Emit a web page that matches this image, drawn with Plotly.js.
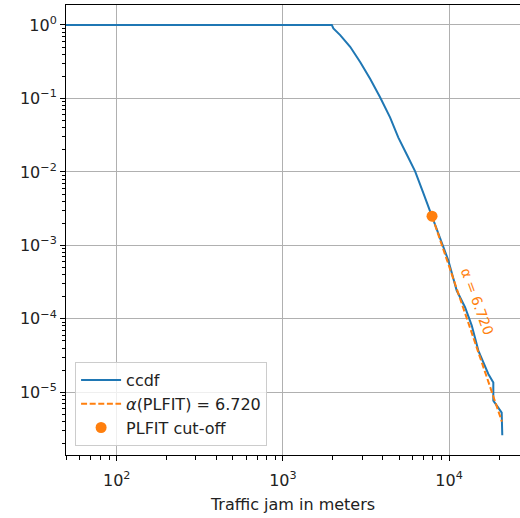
<!DOCTYPE html>
<html>
<head>
<meta charset="utf-8">
<script src="https://cdn.plot.ly/plotly-3.0.1.min.js"></script>
<style>html,body{margin:0;padding:0;overflow:hidden;background:#fff}</style>
</head>
<body>
<div id="chart" style="width:520px;height:518px"></div>
<script>
// CCDF of traffic jam lengths
const ccdfX = [20, 1972, 2014, 2213, 2541, 2918, 3350, 3846, 4416, 4955, 5568, 6252, 7006, 7804, 8830, 9905, 11120, 12480, 13700, 15010, 17230, 18470, 18470, 20740, 20910];
const ccdfY = [1, 1, 0.90, 0.729, 0.505, 0.314, 0.185, 0.104, 0.0552, 0.0293, 0.0173, 0.0102, 0.00515, 0.00265, 1.3e-3, 6.24e-4, 2.43e-4, 1.44e-4, 8.1e-5, 3.7e-5, 1.78e-5, 1.36e-5, 7.7e-6, 5.3e-6, 2.6e-6];
// PLFIT power-law fit line
const fitX = [7900, 20800];
const fitY = [2.5e-3, 4.0e-6];
const alphaValue = 6.720;
// cut-off point
const cutX = [7900];
const cutY = [2.5e-3];
// annotation position
const annX = 14680, annY = 1.73e-4;
// tick labels
const xTickVals = [100, 1000, 10000];
const xTickText = ["10<sup>2</sup>", "10<sup>3</sup>", "10<sup>4</sup>"];
const yTickVals = [1, 0.1, 0.01, 0.001, 1e-4, 1e-5];
const yTickText = ["10<sup>0</sup>", "10<sup>−1</sup>", "10<sup>−2</sup>", "10<sup>−3</sup>", "10<sup>−4</sup>", "10<sup>−5</sup>"];

function minorVals(lo, hi) {
  const v = [];
  for (let e = lo; e <= hi; e++) for (let m = 2; m <= 9; m++) v.push(m * Math.pow(10, e));
  return v;
}

const blue = '#1f77b4', orange = '#ff7f0e';
const traces = [
  {x: ccdfX, y: ccdfY, mode: 'lines', name: 'ccdf', legendgroup: 'a',
   line: {color: blue, width: 2}},
  {x: fitX, y: fitY, mode: 'lines', name: '<i>α</i>(PLFIT) = ' + alphaValue.toFixed(3), legendgroup: 'b',
   line: {color: orange, width: 2, dash: '6px,2.6px'}},
  {x: cutX, y: cutY, mode: 'markers', name: 'PLFIT cut-off', legendgroup: 'c',
   marker: {color: orange, size: 11}}
];
const axisCommon = {
  type: 'log', showline: true, linecolor: 'black', linewidth: 1,
  showgrid: true, gridcolor: '#b0b0b0', gridwidth: 1,
  ticks: 'outside', ticklen: 5, tickcolor: 'black', tickwidth: 1,
  tickmode: 'array', zeroline: false,
  tickfont: {family: 'DejaVu Sans', size: 16, color: '#222'}
};
const layout = {
  width: 520, height: 518,
  margin: {l: 66, r: 0, t: 5, b: 63},
  paper_bgcolor: 'white', plot_bgcolor: 'white',
  font: {family: 'DejaVu Sans', size: 16, color: '#222'},
  showlegend: true,
  xaxis: Object.assign({}, axisCommon, {
    range: [1.695, 4.427], mirror: true, ticklabelstandoff: 6,
    tickvals: xTickVals, ticktext: xTickText,
    minor: {tickmode: 'array', tickvals: minorVals(1, 4), ticks: 'outside', ticklen: 3.5, tickcolor: 'black', tickwidth: 1, showgrid: false},
    title: {text: 'Traffic jam in meters', font: {family: 'DejaVu Sans', size: 16, color: '#222'}, standoff: 9}
  }),
  yaxis: Object.assign({}, axisCommon, {
    range: [-5.853, 0.272], mirror: false,
    tickvals: yTickVals, ticktext: yTickText,
    minor: {tickmode: 'array', tickvals: minorVals(-6, 0), ticks: 'outside', ticklen: 3.5, tickcolor: 'black', tickwidth: 1, showgrid: false}
  }),
  legend: {
    x: 0.02, y: 0.02, xanchor: 'left', yanchor: 'bottom',
    bgcolor: 'rgba(255,255,255,0.8)', bordercolor: '#cccccc', borderwidth: 1,
    font: {family: 'DejaVu Sans', size: 16, color: '#222'},
    tracegroupgap: 0, itemwidth: 40
  },
  annotations: [{
    x: Math.log10(annX), y: Math.log10(annY), xref: 'x', yref: 'y',
    text: 'α = ' + alphaValue.toFixed(3), showarrow: false, textangle: 70,
    font: {family: 'DejaVu Sans', size: 14, color: orange}
  }]
};
Plotly.newPlot('chart', traces, layout, {displayModeBar: false, staticPlot: true});
</script>
</body>
</html>
